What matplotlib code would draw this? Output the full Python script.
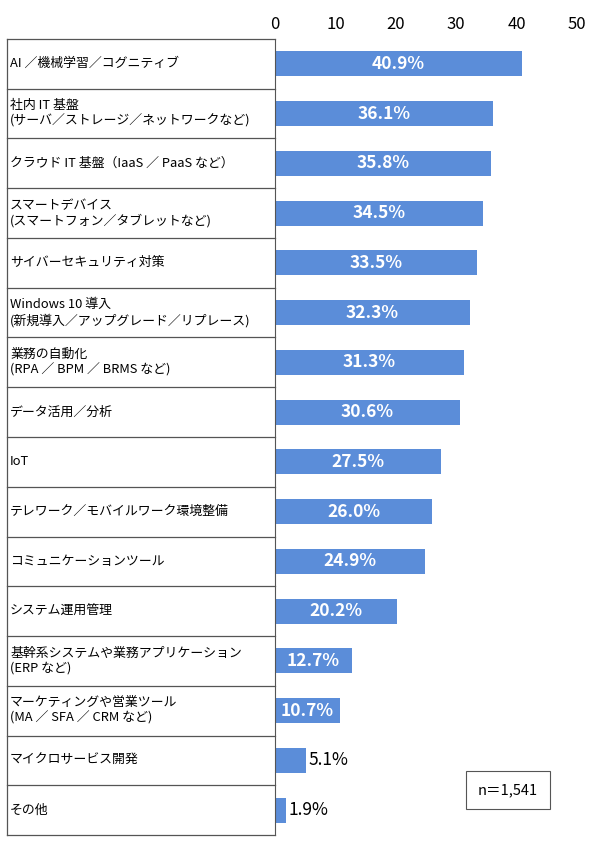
import matplotlib
matplotlib.use("Agg")
import matplotlib.pyplot as plt

plt.rcParams["font.family"] = ["Noto Sans CJK JP", "DejaVu Sans"]

labels = [
    "AI ／機械学習／コグニティブ",
    "社内 IT 基盤\n(サーバ／ストレージ／ネットワークなど)",
    "クラウド IT 基盤（IaaS ／ PaaS など）",
    "スマートデバイス\n(スマートフォン／タブレットなど)",
    "サイバーセキュリティ対策",
    "Windows 10 導入\n(新規導入／アップグレード／リプレース)",
    "業務の自動化\n(RPA ／ BPM ／ BRMS など)",
    "データ活用／分析",
    "IoT",
    "テレワーク／モバイルワーク環境整備",
    "コミュニケーションツール",
    "システム運用管理",
    "基幹系システムや業務アプリケーション\n(ERP など)",
    "マーケティングや営業ツール\n(MA ／ SFA ／ CRM など)",
    "マイクロサービス開発",
    "その他",
]
values = [40.9, 36.1, 35.8, 34.5, 33.5, 32.3, 31.3, 30.6, 27.5, 26.0, 24.9, 20.2, 12.7, 10.7, 5.1, 1.9]
ticks = [0, 10, 20, 30, 40, 50]

fig = plt.figure(figsize=(5.9, 8.47), dpi=100)
ax = fig.add_axes([275 / 590, 12 / 847, 302 / 590, (835 - 39) / 847])
n = len(values)
ys = list(range(n))
ax.barh(ys, values, height=0.5, color="#5b8dd9")
ax.set_ylim(n - 0.5, -0.5)
ax.set_xlim(0, 50)
ax.set_xticks(ticks)
ax.xaxis.tick_top()
ax.tick_params(axis="x", length=0, labelsize=12, pad=4)
ax.set_yticks([])
for s in ["top", "right", "bottom"]:
    ax.spines[s].set_visible(False)
ax.spines["left"].set_color("#555555")

for y, v in zip(ys, values):
    if v > 10:
        ax.text(v / 2, y, f"{v:.1f}%", ha="center", va="center", color="white",
                fontsize=12.5, fontweight="bold")
    else:
        ax.text(v + 0.4, y, f"{v:.1f}%", ha="left", va="center", color="black", fontsize=12.5)

tr = ax.get_yaxis_transform()
left = (7 - 275) / 302
for y, lab in zip(ys, labels):
    ax.text(left + 0.01, y, lab, transform=tr, ha="left", va="center", fontsize=9.3,
            linespacing=1.2)
for b in range(n + 1):
    ax.plot([left, 0], [b - 0.5, b - 0.5], transform=tr, color="#555555", lw=0.9, clip_on=False)
ax.plot([left, left], [-0.5, n - 0.5], transform=tr, color="#555555", lw=0.9, clip_on=False)

fig.text(508 / 590, 1 - 790 / 847, "n＝1,541", ha="center", va="center", fontsize=10.5,
         bbox=dict(boxstyle="square,pad=0.8", fc="white", ec="#555555", lw=0.8))

fig.savefig("out.png", dpi=100, facecolor="white")
